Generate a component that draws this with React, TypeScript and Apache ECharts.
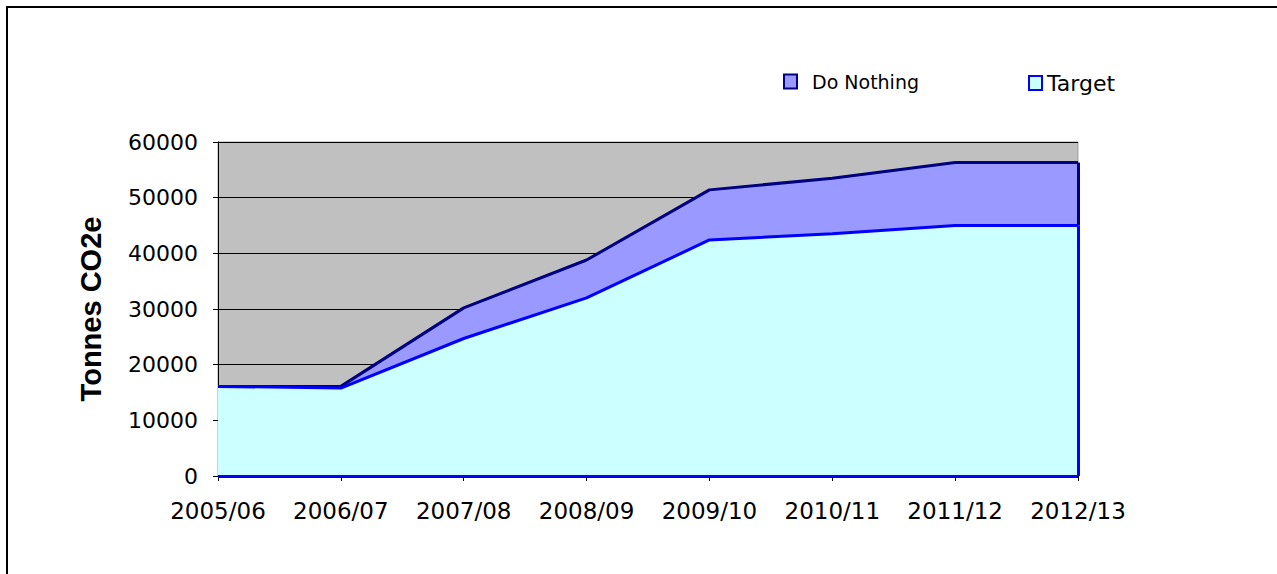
import React, { useEffect, useRef } from "react";
import * as echarts from "echarts";

const categories = ["2005/06", "2006/07", "2007/08", "2008/09", "2009/10", "2010/11", "2011/12", "2012/13"];
const doNothing = [16100, 16100, 30200, 38800, 51400, 53500, 56300, 56300];
const target = [16100, 15800, 24700, 32000, 42400, 43500, 45000, 45000];
const yTicks = { min: 0, max: 60000, interval: 10000 };

const FONT = "DejaVu Sans";

export default function App() {
  const ref = useRef<HTMLDivElement>(null);
  useEffect(() => {
    if (!ref.current) return;
    const chart = echarts.init(ref.current, undefined, { renderer: "svg" });
    const last = categories.length - 1;
    chart.setOption({
      animation: false,
      backgroundColor: "#ffffff",
      graphic: [
        {
          type: "rect",
          shape: { x: 7, y: 7, width: 1400, height: 700 },
          style: { fill: "none", stroke: "#000000", lineWidth: 2 },
          silent: true,
        },
      ],
      legend: [
        {
          data: [
            {
              name: "Do Nothing",
              icon: "rect",
              itemStyle: { color: "#9999FF", borderColor: "#000080", borderWidth: 2 },
            },
          ],
          left: 783,
          top: 72,
          padding: 0,
          itemWidth: 13,
          itemHeight: 14,
          textStyle: { fontFamily: FONT, fontSize: 19, color: "#000", padding: [0, 0, 0, 10] },
        },
        {
          data: [
            {
              name: "Target",
              icon: "rect",
              itemStyle: { color: "#CCFFFF", borderColor: "#0000FF", borderWidth: 2 },
            },
          ],
          left: 1028,
          top: 72,
          padding: 0,
          itemWidth: 13,
          itemHeight: 14,
          textStyle: { fontFamily: FONT, fontSize: 22, color: "#000" },
        },
      ],
      grid: {
        left: 218,
        right: 199,
        top: 142,
        bottom: 98,
        show: true,
        backgroundColor: "#C0C0C0",
        borderColor: "#A0A0A0",
        borderWidth: 1,
      },
      xAxis: {
        type: "category",
        data: categories,
        boundaryGap: false,
        axisLine: { lineStyle: { color: "#000", width: 1 } },
        axisTick: { show: true, length: 5, alignWithLabel: true, lineStyle: { color: "#000" } },
        axisLabel: { fontFamily: FONT, fontSize: 23, color: "#000", margin: 23, interval: 0 },
        splitLine: { show: false },
      },
      yAxis: {
        type: "value",
        min: yTicks.min,
        max: yTicks.max,
        interval: yTicks.interval,
        name: "Tonnes CO2e",
        nameLocation: "middle",
        nameRotate: 90,
        nameGap: 113,
        nameTextStyle: { fontFamily: "Liberation Sans", fontWeight: "bold", fontSize: 29, color: "#000" },
        axisLine: { show: true, lineStyle: { color: "#000", width: 1 } },
        axisTick: { show: true, length: 5, lineStyle: { color: "#000" } },
        axisLabel: {
          fontFamily: FONT,
          fontSize: 22,
          color: "#000",
          margin: 20,
          formatter: (v: number) => String(v),
        },
        splitLine: { show: true, lineStyle: { color: "#000", width: 1 } },
      },
      series: [
        {
          name: "Do Nothing",
          type: "line",
          data: doNothing,
          symbol: "none",
          lineStyle: { color: "#000080", width: 3 },
          itemStyle: { color: "#9999FF", borderColor: "#000080" },
          areaStyle: { color: "#9999FF", opacity: 1 },
          markLine: {
            silent: true,
            symbol: "none",
            label: { show: false },
            lineStyle: { color: "#000080", width: 3, type: "solid" },
            data: [[{ coord: [categories[last], doNothing[last]] }, { coord: [categories[last], target[last]] }]],
          },
        },
        {
          name: "Target",
          type: "line",
          data: target,
          symbol: "none",
          lineStyle: { color: "#0000FF", width: 3 },
          itemStyle: { color: "#CCFFFF", borderColor: "#0000FF" },
          areaStyle: { color: "#CCFFFF", opacity: 1 },
          markLine: {
            silent: true,
            symbol: "none",
            label: { show: false },
            lineStyle: { color: "#0000FF", width: 3, type: "solid" },
            data: [
              [{ coord: [categories[last], target[last]] }, { coord: [categories[last], 0] }],
              [{ coord: [categories[0], 0] }, { coord: [categories[last], 0] }],
            ],
          },
        },
      ],
    });
    return () => chart.dispose();
  }, []);
  return (
    <div
      ref={ref}
      style={{ position: "absolute", left: 0, top: 0, width: 1277, height: 574, background: "#fff" }}
    />
  );
}
